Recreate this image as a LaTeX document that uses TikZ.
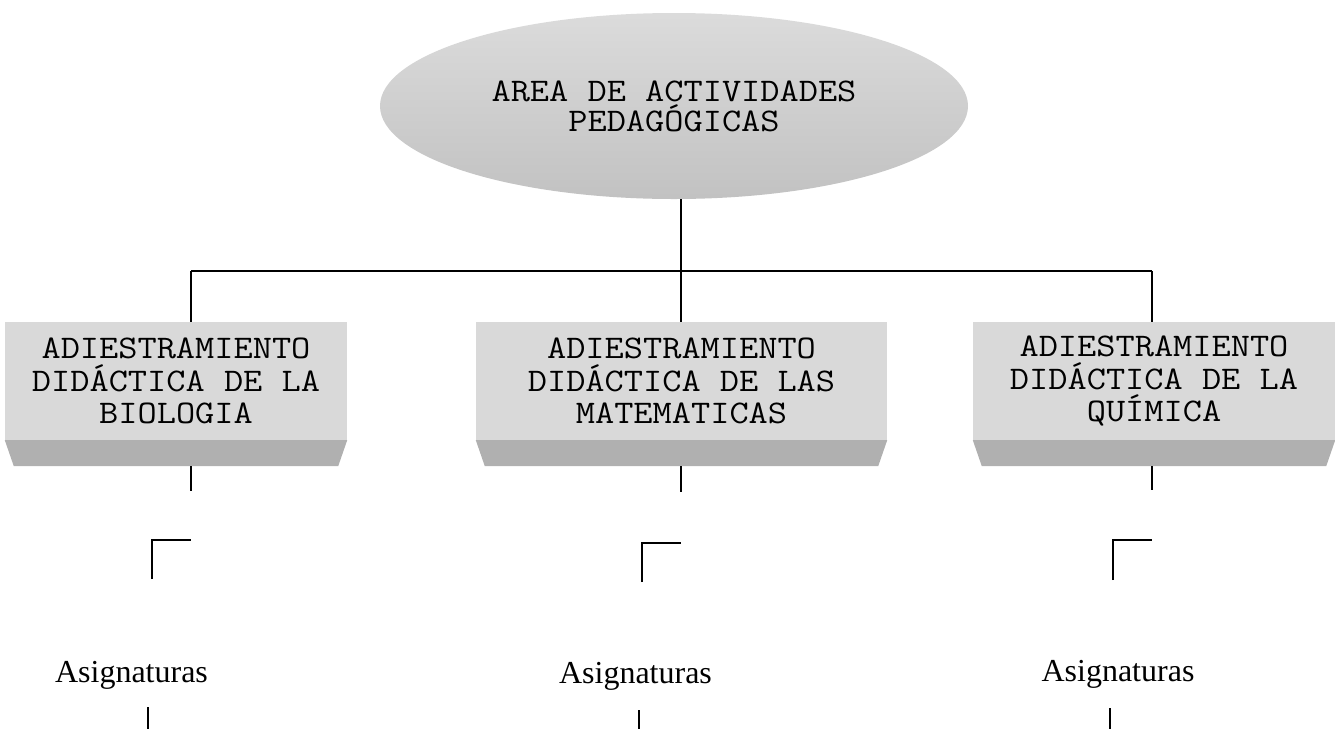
\documentclass[tikz,border=0pt]{standalone}
\usepackage{fontspec}
\setmainfont{Liberation Serif}
\usetikzlibrary{shapes.geometric}
\newcommand\wide[1]{\scalebox{1.13}[1]{#1}}
\newcommand\boxfont{\ttfamily\fontsize{33}{32.5}\selectfont}
\newcommand\areafont{\ttfamily\fontsize{33}{30}\selectfont}
\begin{document}
\begin{tikzpicture}[x=1pt,y=-1pt,
  conn/.style={draw=black,line width=2pt},
  areanode/.style={ellipse,inner sep=0pt,minimum width=588pt,minimum height=186pt,
    top color=gray!28,bottom color=gray!48,align=center,font=\areafont},
  boxnode/.style={rectangle,inner sep=0pt,fill=gray!30,align=center,minimum height=118pt,
    font=\boxfont},
  bevel/.style={fill=gray!62},
  subj/.style={anchor=base,font=\fontsize{32}{36}\selectfont}]
\useasboundingbox (0,0) rectangle (1335,729);

\node[areanode] (area) at (674,106) {\wide{AREA DE ACTIVIDADES}\\\wide{PEDAGÓGICAS}};

\node[boxnode,minimum width=342pt] (b1) at (176,381) {\wide{ADIESTRAMIENTO}\\\wide{DIDÁCTICA DE LA}\\\wide{BIOLOGIA}};
\node[boxnode,minimum width=411pt] (b2) at (681.5,381) {\wide{ADIESTRAMIENTO}\\\wide{DIDÁCTICA DE LAS}\\\wide{MATEMATICAS}};
\node[boxnode,minimum width=362pt] (b3) at (1154,381) {\wide{ADIESTRAMIENTO}\\\wide{DIDÁCTICA DE LA}\\\wide{QUÍMICA}};

\foreach \b in {b1,b2,b3}{
  \fill[bevel] (\b.south west) -- (\b.south east) -- ([xshift=-9pt,yshift=-26pt]\b.south east)
    -- ([xshift=9pt,yshift=-26pt]\b.south west) -- cycle;
}

% top connectors
\coordinate (hub1) at (191,271);
\coordinate (hub2) at (681,271);
\coordinate (hub3) at (1152,271);
\draw[conn] (area.south -| hub2) -- (hub2);
\draw[conn] (hub1) -- (hub3);
\draw[conn] (hub1) -- (hub1 |- b1.north);
\draw[conn] (hub2) -- (hub2 |- b2.north);
\draw[conn] (hub3) -- (hub3 |- b3.north);

% below boxes
\coordinate (e1) at (191,466); \coordinate (f1) at (191,491);
\coordinate (e2) at (681,466); \coordinate (f2) at (681,492);
\coordinate (e3) at (1152,466); \coordinate (f3) at (1152,490);
\draw[conn] (e1) -- (f1);
\draw[conn] (e2) -- (f2);
\draw[conn] (e3) -- (f3);

% corner marks
\coordinate (c1a) at (152,579); \coordinate (c1b) at (152,540); \coordinate (c1c) at (191,540);
\coordinate (c2a) at (642,582); \coordinate (c2b) at (642,543); \coordinate (c2c) at (681,543);
\coordinate (c3a) at (1113,580); \coordinate (c3b) at (1113,540); \coordinate (c3c) at (1152,540);
\draw[conn] (c1a) -- (c1b) -- (c1c);
\draw[conn] (c2a) -- (c2b) -- (c2c);
\draw[conn] (c3a) -- (c3b) -- (c3c);

% subjects
\node[subj] (s1) at (131.5,682) {Asignaturas};
\node[subj] (s2) at (635.5,683) {Asignaturas};
\node[subj] (s3) at (1118,681) {Asignaturas};

\coordinate (t1) at (148,707); \coordinate (u1) at (148,729);
\coordinate (t2) at (639,710); \coordinate (u2) at (639,729);
\coordinate (t3) at (1110,708); \coordinate (u3) at (1110,729);
\draw[conn] (t1) -- (u1);
\draw[conn] (t2) -- (u2);
\draw[conn] (t3) -- (u3);
\end{tikzpicture}
\end{document}
